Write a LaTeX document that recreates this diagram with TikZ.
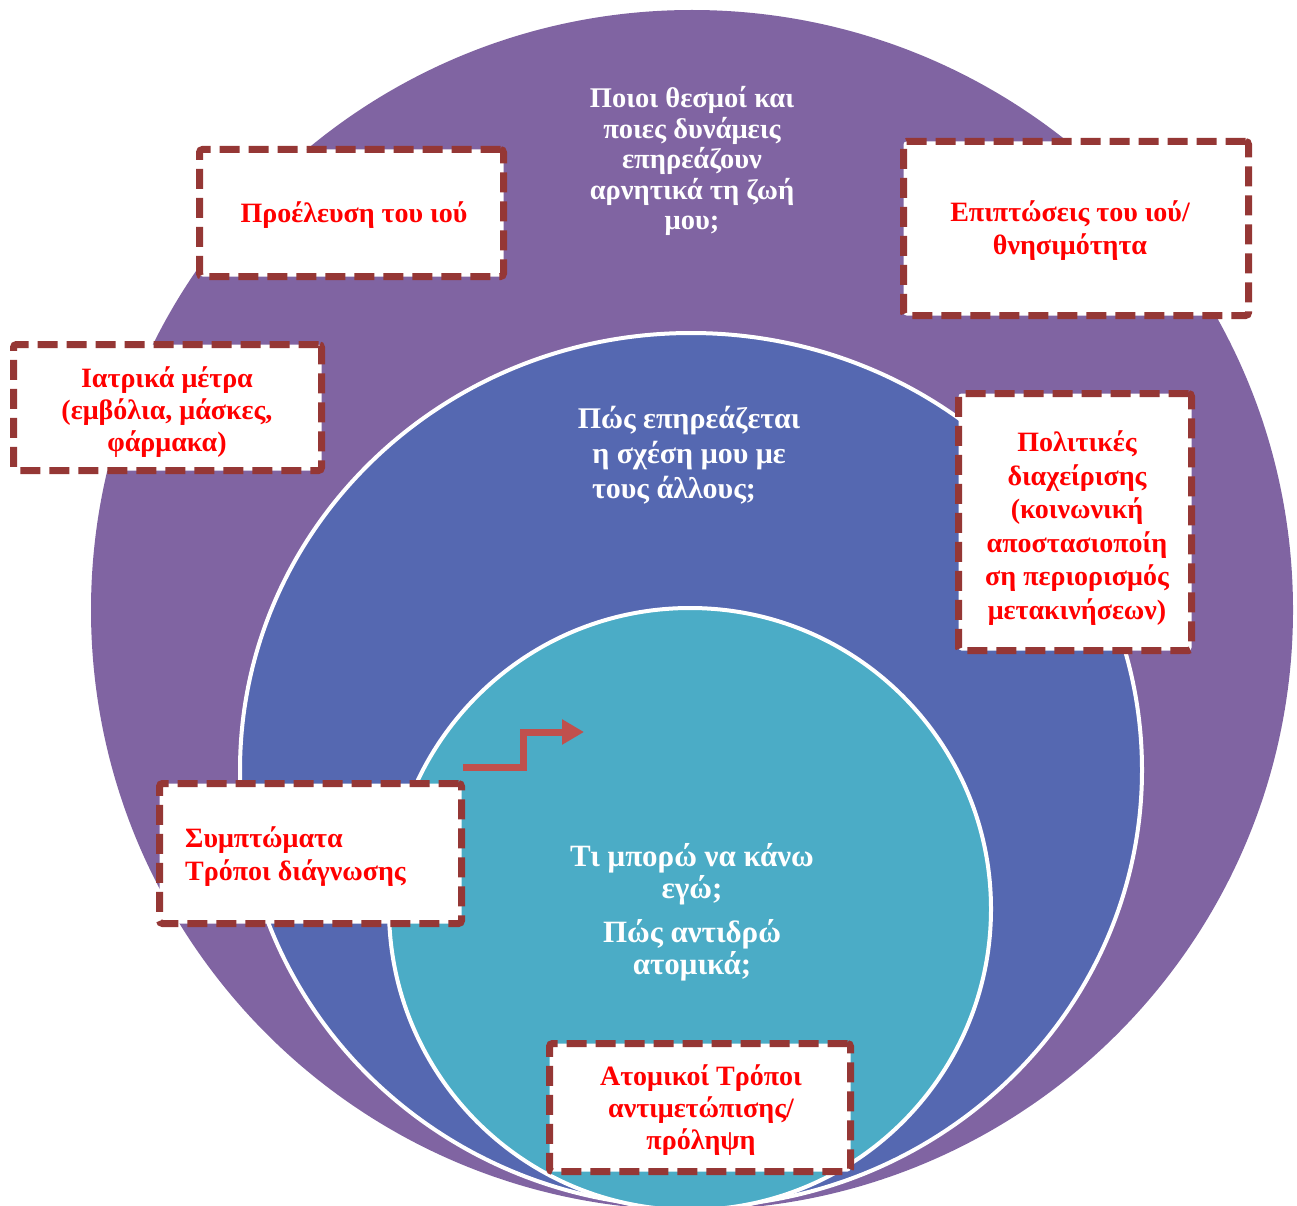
\documentclass[tikz,border=0pt]{standalone}
\usepackage{fontspec}
\setmainfont{Liberation Serif}
\usetikzlibrary{arrows.meta}
\definecolor{outerc}{RGB}{128,100,162}
\definecolor{midc}{RGB}{85,104,177}
\definecolor{innc}{RGB}{75,172,198}
\definecolor{boxc}{RGB}{149,55,53}
\definecolor{arrowc}{RGB}{192,80,77}
\definecolor{redtxt}{RGB}{255,0,0}
\tikzset{
  dbox/.style={draw=boxc, line width=7pt, dash pattern=on 20pt off 9pt, fill=white,
    rounded corners=3pt, inner sep=0pt},
  redlabel/.style={text=redtxt, font=\bfseries\fontsize{28}{33}\selectfont, align=center, inner sep=0pt},
  whitelabel/.style={text=white, font=\bfseries\fontsize{30}{34}\selectfont, align=center, inner sep=0pt},
  ring/.style={draw=white, line width=4pt}
}
\begin{document}
\begin{tikzpicture}[x=1pt,y=-1pt]
\useasboundingbox (0,0) rectangle (1297,1206);
\begin{scope}
\clip (0,0) rectangle (1297,1206);
\fill[outerc] (692,610) ellipse [x radius=601, y radius=600];
\filldraw[ring, fill=midc] (691,770) ellipse [x radius=451, y radius=437];
\filldraw[ring, fill=innc] (690,909) circle (301);
\end{scope}

% white questions
\node[whitelabel, font=\bfseries\fontsize{28.5}{30.5}\selectfont] (q1) at (692,161)
  {Ποιοι θεσμοί και\\ποιες δυνάμεις\\επηρεάζουν\\αρνητικά τη ζωή\\μου;};
\node[whitelabel, font=\bfseries\fontsize{30}{35}\selectfont] (q2) at (689,455)
  {Πώς επηρεάζεται\\η σχέση μου με\\τους άλλους;\hphantom{xx}};
\node[whitelabel, font=\bfseries\fontsize{31}{32}\selectfont] (q3) at (692,912)
  {Τι μπορώ να κάνω\\εγώ;\\[12pt]Πώς αντιδρώ\\ατομικά;};

% arrow
\coordinate (as) at (463,767);
\coordinate (ae) at (584,732);
\draw[arrowc, line width=7pt, line join=miter, -{Triangle[length=22pt,width=24pt]}]
  (as) -- ++(60,0) |- (ae);

% dashed boxes
\node[dbox, minimum width=304pt, minimum height=127pt] (b1) at (351.5,213) {};
\node[dbox, minimum width=345pt, minimum height=174pt] (b2) at (1076,228.5) {};
\node[dbox, minimum width=308pt, minimum height=126pt] (b3) at (167.5,407.5) {};
\node[dbox, minimum width=233pt, minimum height=257pt] (b4) at (1075,522) {};
\node[dbox, minimum width=302pt, minimum height=140pt] (b5) at (310.5,853.5) {};
\node[dbox, minimum width=301pt, minimum height=128pt] (b6) at (700,1107.5) {};

% red labels
\node[redlabel] (t1) at (354,215) {Προέλευση του ιού};
\node[redlabel] (t2) at (1070,231) {Επιπτώσεις του ιού/\\θνησιμότητα};
\node[redlabel, font=\bfseries\fontsize{28}{32}\selectfont] (t3) at (167,412) {Ιατρικά μέτρα\\(εμβόλια, μάσκες,\\φάρμακα)};
\node[redlabel, font=\bfseries\fontsize{28}{33.5}\selectfont] (t4) at (1077,528) {Πολιτικές\\διαχείρισης\\(κοινωνική\\αποστασιοποίη\\ση περιορισμός\\μετακινήσεων)};
\node[redlabel, align=left, anchor=west] (t5) at (185,857) {Συμπτώματα\\Τρόποι διάγνωσης};
\node[redlabel, font=\bfseries\fontsize{28}{32}\selectfont] (t6) at (701,1110) {Ατομικοί Τρόποι\\αντιμετώπισης/\\πρόληψη};
\end{tikzpicture}
\end{document}
